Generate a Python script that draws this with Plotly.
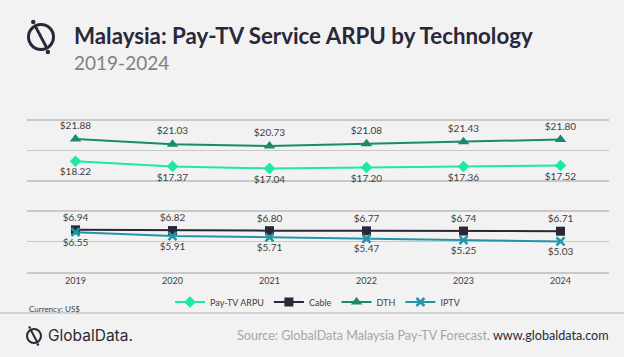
import plotly.graph_objects as go

years = ["2019", "2020", "2021", "2022", "2023", "2024"]
paytv = [18.22, 17.37, 17.04, 17.20, 17.36, 17.52]
cable = [6.94, 6.82, 6.80, 6.77, 6.74, 6.71]
dth = [21.88, 21.03, 20.73, 21.08, 21.43, 21.80]
iptv = [6.55, 5.91, 5.71, 5.47, 5.25, 5.03]

W, H = 624, 357
L, R, T, B = 27, 15, 117, 85
PW = W - L - R
PH = H - T - B

def px(x):
    return (x - L) / PW

def py(y):
    return (H - B - y) / PH

FONT = "Lato"
LBL = dict(family=FONT, size=10, color="#404040")

fig = go.Figure()

def add(name, vals, color, symbol, size, pos):
    fig.add_trace(go.Scatter(
        x=years, y=vals, name=name, mode="lines+markers+text",
        line=dict(color=color, width=2),
        marker=dict(symbol=symbol, size=size, color=color,
                    line=dict(width=0, color=color)),
        text=["$%.2f" % v for v in vals], textposition=pos,
        textfont=LBL, cliponaxis=False,
    ))

add("Pay-TV ARPU", paytv, "#1ee8a2", "diamond", 9, "bottom center")
add("Cable", cable, "#2a2838", "square", 9, "top center")
add("DTH", dth, "#1a8a6e", "triangle-up", 10, "top center")
add("IPTV", iptv, "#2295a8", "x-thin", 8, "bottom center")
fig.data[3].marker.line = dict(width=2.5, color="#2295a8")

shapes = []
# footer separator
shapes.append(dict(type="line", xref="paper", yref="paper",
                   x0=px(0), x1=px(W), y0=py(313), y1=py(313),
                   line=dict(color="#c8c8c8", width=1.5)))

def logo(cx, cy, r, w):
    out = []
    out.append(dict(type="circle", xref="paper", yref="paper",
                    x0=px(cx - r), x1=px(cx + r), y0=py(cy + r), y1=py(cy - r),
                    line=dict(color="#2a2838", width=w)))
    out.append(dict(type="line", xref="paper", yref="paper",
                    x0=px(cx - 0.45 * r), y0=py(cy - 0.85 * r),
                    x1=px(cx + 0.45 * r), y1=py(cy + 0.85 * r),
                    line=dict(color="#2a2838", width=w)))
    d = r * 0.18
    for (dx, dy) in [(-0.62 * r, -1.2 * r), (0.55 * r, 1.2 * r)]:
        out.append(dict(type="circle", xref="paper", yref="paper",
                        x0=px(cx + dx - d), x1=px(cx + dx + d),
                        y0=py(cy + dy + d), y1=py(cy + dy - d),
                        fillcolor="#2a2838", line=dict(width=0)))
    return out

shapes += logo(41, 37, 12.5, 3)
shapes += logo(34, 336, 7, 2)

annotations = [
    dict(text="<b>Malaysia: Pay-TV Service ARPU by Technology</b>",
         xref="paper", yref="paper", x=px(72), y=py(35),
         xanchor="left", yanchor="middle", showarrow=False,
         font=dict(family=FONT, size=22.3, color="#2a2838")),
    dict(text="2019-2024", xref="paper", yref="paper", x=px(72), y=py(62),
         xanchor="left", yanchor="middle", showarrow=False,
         font=dict(family=FONT, size=19, color="#808080")),
    dict(text="Currency: US$", xref="paper", yref="paper", x=px(27), y=py(309),
         xanchor="left", yanchor="middle", showarrow=False,
         font=dict(family=FONT, size=8, color="#404040")),
    dict(text="GlobalData.", xref="paper", yref="paper", x=px(46), y=py(335),
         xanchor="left", yanchor="middle", showarrow=False,
         font=dict(family="Inter", size=15.5, color="#2a2838")),
    dict(text="<span style='color:#a6a6a6'>Source: GlobalData Malaysia Pay-TV Forecast.</span> "
              "<span style='color:#2a2838'>www.globaldata.com</span>",
         xref="paper", yref="paper", x=px(611), y=py(335),
         xanchor="right", yanchor="middle", showarrow=False,
         font=dict(family=FONT, size=12.6)),
]

fig.update_layout(
    width=W, height=H,
    margin=dict(l=L, r=R, t=T, b=B, autoexpand=False),
    paper_bgcolor="#f2f2f2", plot_bgcolor="#f2f2f2",
    showlegend=True,
    legend=dict(orientation="h", x=0.5, xanchor="center", y=py(302), yanchor="middle",
                font=dict(family=FONT, size=9, color="#404040"),
                itemwidth=30, tracegroupgap=0, bgcolor="rgba(0,0,0,0)"),
    xaxis=dict(type="category", range=[-0.5, 5.5], showgrid=False, showline=True,
               linecolor="#c8c8c8", linewidth=1.5, ticks="",
               tickfont=dict(family=FONT, size=9, color="#404040"),
               fixedrange=True),
    yaxis=dict(range=[0, 25.5], tick0=0, dtick=5, showticklabels=False, showgrid=True,
               gridcolor="#c8c8c8", gridwidth=1.5, zeroline=False, showline=False,
               fixedrange=True),
    shapes=shapes, annotations=annotations,
    font=dict(family=FONT),
    hovermode=False,
)

fig.write_html(
    "out.html",
    config={"displayModeBar": False, "staticPlot": True},
    post_script="document.body.style.margin='0';document.body.style.background='#f2f2f2';"
                "document.documentElement.style.overflow='hidden';",
)
